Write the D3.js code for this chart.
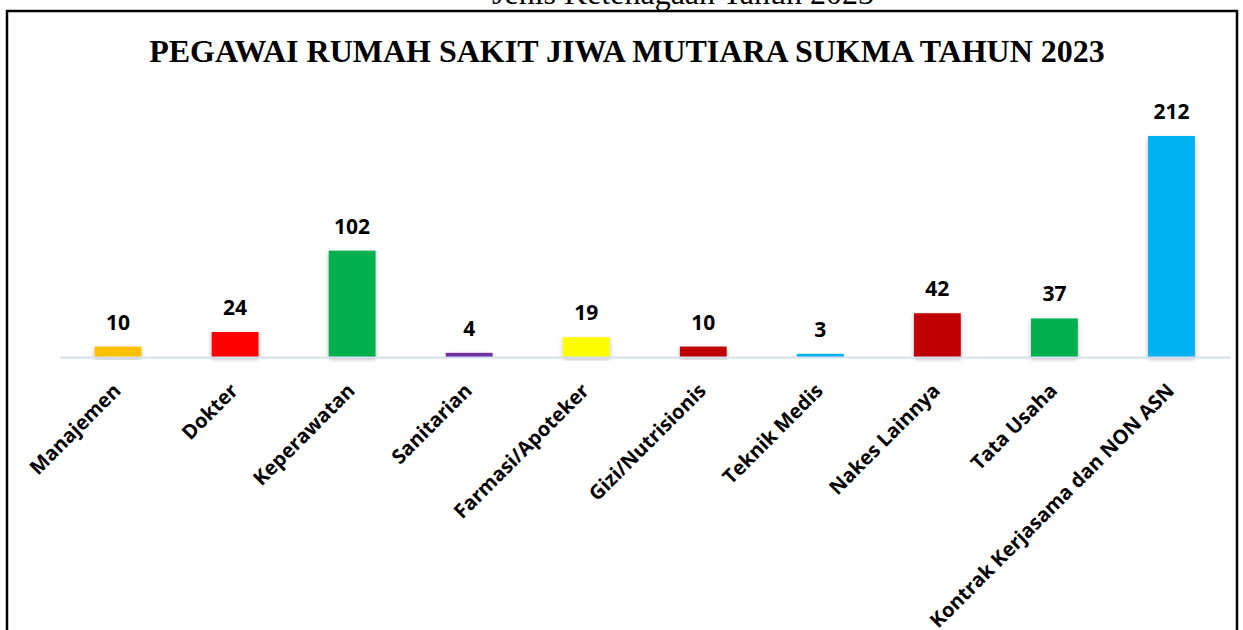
<!DOCTYPE html>
<html><head><meta charset="utf-8">
<script src="https://cdn.jsdelivr.net/npm/d3@7"></script>
<style>body{margin:0;background:#fff}svg{display:block}</style>
</head><body>
<svg id="c" width="1243" height="630"></svg>
<script>
const categories = ["Manajemen","Dokter","Keperawatan","Sanitarian","Farmasi/Apoteker","Gizi/Nutrisionis","Teknik Medis","Nakes Lainnya","Tata Usaha","Kontrak Kerjasama dan NON ASN"];
const values = [10,24,102,4,19,10,3,42,37,212];
const colors = ["#FFC000","#FF0000","#00B050","#7030A0","#FFFF00","#C00000","#00B0F0","#C00000","#00B050","#00B0F0"];
const titleText = "PEGAWAI RUMAH SAKIT JIWA MUTIARA SUKMA TAHUN 2023";
const topText = "Jenis Ketenagaan Tahun 2023";

const svg = d3.select("#c");
const defs = svg.append("defs");
const f = defs.append("filter").attr("id","sh").attr("x","-20%").attr("y","-20%").attr("width","140%").attr("height","140%");
f.append("feDropShadow").attr("dx",0).attr("dy",2).attr("stdDeviation",2).attr("flood-color","#000").attr("flood-opacity",0.3);

// cut-off top caption
svg.append("text").attr("x",683).attr("y",4).attr("text-anchor","middle")
  .attr("font-family","Liberation Serif").attr("font-size",32).attr("fill","#000").text(topText);

// outer frame
svg.append("path").attr("d","M7,630 V11 H1237 V630").attr("fill","none").attr("stroke","#000").attr("stroke-width",2.5);

svg.append("text").attr("x",627).attr("y",62).attr("text-anchor","middle")
  .attr("font-family","Liberation Serif").attr("font-weight","bold").attr("font-size",32)
  .attr("fill","#000").text(titleText);

const x = d3.scaleBand().domain(categories).range([59.5,1230]).paddingInner(0.6).paddingOuter(0.3);
const y = d3.scaleLinear().domain([0,212]).range([357,136]);

const g = svg.append("g");
g.selectAll("rect").data(values).enter().append("rect")
  .attr("x",(d,i)=>x(categories[i])).attr("width",x.bandwidth())
  .attr("y",d=>y(d)).attr("height",d=>y(0)-y(d))
  .attr("fill",(d,i)=>colors[i]).attr("filter","url(#sh)");

const axis = d3.axisBottom(x).tickSize(0).tickPadding(0);
const ag = svg.append("g").attr("transform","translate(0,357)").call(axis);
ag.select(".domain").attr("stroke","#D6E0EF").attr("stroke-width",2);
ag.selectAll(".tick text")
  .attr("font-family","Open Sans").attr("font-weight","bold").attr("font-size",20).attr("fill","#000")
  .attr("text-anchor","end").attr("dy",0)
  .attr("transform","translate(4,35) rotate(-45)");

g.selectAll(".vl").data(values).enter().append("text").attr("class","vl")
  .attr("x",(d,i)=>x(categories[i])+x.bandwidth()/2).attr("y",d=>y(d)-17)
  .attr("text-anchor","middle").attr("font-family","Open Sans").attr("font-weight","bold")
  .attr("font-size",21).attr("fill","#000").text(d=>d);
</script>
</body></html>
